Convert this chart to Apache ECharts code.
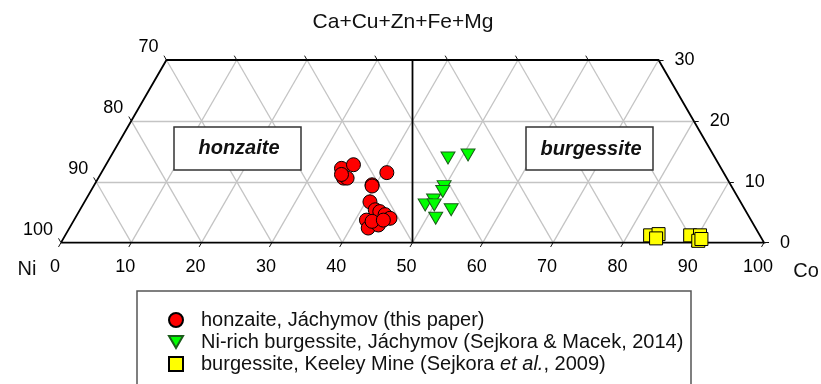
<!DOCTYPE html>
<html>
<head>
<meta charset="utf-8">
<script src="https://cdn.jsdelivr.net/npm/echarts@6/dist/echarts.min.js"></script>
<style>
  html, body { margin: 0; padding: 0; background: #fff; }
  #chart { width: 821px; height: 384px; }
</style>
</head>
<body>
<div id="chart"></div>
<script>
const FONT = '"Liberation Sans", Arial, Helvetica, sans-serif';

// Compositions (at.%): Co and the Ca+Cu+Zn+Fe+Mg sum; Ni is the remainder to 100.
const honzaiteCo = [33.8, 35.2, 34.9, 35.4, 34.3, 40.6, 39.5, 39.6, 40.6, 42.0, 42.8, 43.8, 44.8, 41.6, 42.5, 43.7, 42.5, 44.0];
const honzaiteM  = [12.2, 12.8, 10.6, 10.6, 11.2, 11.5,  9.5,  9.3,  6.7,  5.4,  5.1,  4.6,  4.0,  3.7,  2.4,  2.9,  3.5,  3.7];

const niBurgCo = [48.1, 50.7, 49.9, 50.1, 49.5, 48.7, 50.0, 52.8, 51.3];
const niBurgM  = [13.9, 14.4,  9.2,  8.4,  7.0,  6.2,  6.2,  5.4,  4.0];

const keeleyCo = [83.2, 84.3, 84.3, 88.9, 90.3, 90.5, 90.8];
const keeleyM  = [ 1.2,  1.4,  0.7,  1.2,  1.2,  0.3,  0.6];

const seriesNames = [
  'honzaite, Jáchymov (this paper)',
  'Ni-rich burgessite, Jáchymov (Sejkora & Macek, 2014)',
  'burgessite, Keeley Mine (Sejkora {i|et al.}, 2009)'
];

// Tick labels on the three edges of the truncated triangle
const bottomTicks = [0, 10, 20, 30, 40, 50, 60, 70, 80, 90, 100]; // Co
const leftTicks   = [100, 90, 80, 70];                              // Ni
const rightTicks  = [0, 10, 20, 30];                                // Ca+Cu+Zn+Fe+Mg
const maxM = 30;

// Ternary (Co, M) -> cartesian: x runs along the Ni–Co base, y is the apex content.
function tern(co, m) { return [co + m / 2, m]; }

// Plot area geometry: 7.03 px per base unit, sqrt(3)/2 of that per apex unit
const GRID_LEFT = 61, GRID_TOP = 60, GRID_W = 703;
const PX_X = GRID_W / 100;
const PX_Y = PX_X * Math.sqrt(3) / 2;
const GRID_H = PX_Y * maxM;

// Gridlines every 10 %
const gridSegs = [];
for (let m = 10; m < maxM; m += 10) gridSegs.push({ coords: [tern(0, m), tern(100 - m, m)] });
for (let c = 10; c <= 90; c += 10) {
  const top = Math.min(maxM, 100 - c);
  gridSegs.push({ coords: [tern(c, 0), tern(c, top)] });
}
for (let n = 10; n <= 90; n += 10) {
  const top = Math.min(maxM, 100 - n);
  gridSegs.push({ coords: [tern(100 - n, 0), tern(100 - n - top, top)] });
}

// Frame and the Ni = Co divide
const frameSegs = [
  { coords: [tern(0, 0), tern(100, 0), tern(100 - maxM, maxM), tern(0, maxM), tern(0, 0)] },
  { coords: [[50, 0], [50, maxM]] }
];

// Small tick marks, 5 px long
const TL = 5;
const dxSlant = (TL / 2) / PX_X, dySlant = (TL * Math.sqrt(3) / 2) / PX_Y, dxFlat = TL / PX_X;
const tickSegs = [];
bottomTicks.forEach(c => tickSegs.push({ coords: [[c, 0], [c - dxSlant, -dySlant]] }));
rightTicks.forEach(m => { const p = tern(100 - m, m); tickSegs.push({ coords: [p, [p[0] + dxFlat, m]] }); });
leftTicks.forEach(n => { const p = tern(0, 100 - n); tickSegs.push({ coords: [p, [p[0] - dxSlant, p[1] + dySlant]] }); });
for (let x = 25; x <= 75; x += 10) tickSegs.push({ coords: [[x, maxM], [x - dxSlant, maxM + dySlant]] });

function labelSeries(data, label) {
  return {
    type: 'scatter', silent: true, z: 20, symbolSize: 1,
    itemStyle: { color: 'transparent' },
    data: data,
    label: Object.assign({
      show: true, position: 'inside', formatter: p => p.data[2],
      fontFamily: FONT, fontSize: 18, color: '#000',
      textBorderWidth: 0, textBorderColor: 'transparent', opacity: 1
    }, label)
  };
}

const downTriangle = 'path://M0,0L20,0L10,17Z';

const chart = echarts.init(document.getElementById('chart'), null, { renderer: 'canvas' });
chart.setOption({
  animation: false,
  grid: { left: GRID_LEFT, top: GRID_TOP, width: GRID_W, height: GRID_H },
  xAxis: { type: 'value', min: 0, max: 100, show: false },
  yAxis: { type: 'value', min: 0, max: maxM, show: false },
  legend: {
    orient: 'vertical', left: 163, top: 305, itemGap: 2,
    itemWidth: 14, itemHeight: 14, selectedMode: false,
    data: [
      { name: seriesNames[0], icon: 'circle' },
      { name: seriesNames[1], icon: downTriangle },
      { name: seriesNames[2], icon: 'rect' }
    ],
    textStyle: {
      fontFamily: FONT, fontSize: 20, color: '#111', padding: [0, 0, 0, 13],
      rich: { i: { fontFamily: FONT, fontSize: 20, fontStyle: 'italic', color: '#111' } }
    }
  },
  graphic: [
    { type: 'text', x: 403, y: 22, z: 50,
      style: { text: 'Ca+Cu+Zn+Fe+Mg', font: '21px ' + FONT, fill: '#111', align: 'center', verticalAlign: 'middle' } },
    { type: 'text', x: 27, y: 269, z: 50,
      style: { text: 'Ni', font: '20px ' + FONT, fill: '#111', align: 'center', verticalAlign: 'middle' } },
    { type: 'text', x: 806, y: 271, z: 50,
      style: { text: 'Co', font: '20px ' + FONT, fill: '#111', align: 'center', verticalAlign: 'middle' } },
    { type: 'group', x: 174, y: 127, z: 50, children: [
      { type: 'rect', z: 50, shape: { x: 0, y: 0, width: 127, height: 43 },
        style: { fill: '#fff', stroke: '#333', lineWidth: 1.5 } },
      { type: 'text', z: 51, x: 65, y: 21,
        style: { text: 'honzaite', font: 'italic bold 20px ' + FONT, fill: '#111', align: 'center', verticalAlign: 'middle' } }
    ] },
    { type: 'group', x: 526, y: 127, z: 50, children: [
      { type: 'rect', z: 50, shape: { x: 0, y: 0, width: 127, height: 43 },
        style: { fill: '#fff', stroke: '#333', lineWidth: 1.5 } },
      { type: 'text', z: 51, x: 65, y: 22,
        style: { text: 'burgessite', font: 'italic bold 20px ' + FONT, fill: '#111', align: 'center', verticalAlign: 'middle' } }
    ] },
    { type: 'rect', z: 1, shape: { x: 137, y: 291, width: 554, height: 120 },
      style: { fill: 'none', stroke: '#555', lineWidth: 1.5 } }
  ],
  series: [
    { type: 'lines', coordinateSystem: 'cartesian2d', silent: true, z: 1, clip: false,
      lineStyle: { color: '#c4c4c4', width: 1.3, opacity: 1 }, data: gridSegs },
    { type: 'lines', coordinateSystem: 'cartesian2d', silent: true, z: 3, clip: false, polyline: true,
      lineStyle: { color: '#000', width: 1.8, opacity: 1 }, data: frameSegs },
    { type: 'lines', coordinateSystem: 'cartesian2d', silent: true, z: 3, clip: false,
      lineStyle: { color: '#111', width: 1, opacity: 1 }, data: tickSegs },
    {
      type: 'scatter', name: seriesNames[0], z: 10, symbol: 'circle', symbolSize: 14,
      itemStyle: { color: '#ff0000', borderColor: '#000', borderWidth: 1, opacity: 1 },
      data: honzaiteCo.map((c, i) => tern(c, honzaiteM[i]))
    },
    {
      type: 'scatter', name: seriesNames[1], z: 10, symbol: downTriangle, symbolSize: [14, 12],
      itemStyle: { color: '#00ff00', borderColor: '#1a5c1a', borderWidth: 1, opacity: 1 },
      data: niBurgCo.map((c, i) => tern(c, niBurgM[i]))
    },
    {
      type: 'scatter', name: seriesNames[2], z: 10, symbol: 'rect', symbolSize: 13,
      itemStyle: { color: '#ffff00', borderColor: '#000', borderWidth: 1, opacity: 1 },
      data: keeleyCo.map((c, i) => tern(c, keeleyM[i]))
    },
    labelSeries(bottomTicks.map(c => [c, 0, String(c)]),
      { align: 'center', verticalAlign: 'middle', offset: [-6, 24] }),
    labelSeries(leftTicks.map(n => { const p = tern(0, 100 - n); return [p[0], p[1], String(n)]; }),
      { align: 'right', verticalAlign: 'middle', offset: [-8, -13] }),
    labelSeries(rightTicks.map(m => { const p = tern(100 - m, m); return [p[0], p[1], String(m)]; }),
      { align: 'left', verticalAlign: 'middle', offset: [16, 0] })
  ]
});
</script>
</body>
</html>
